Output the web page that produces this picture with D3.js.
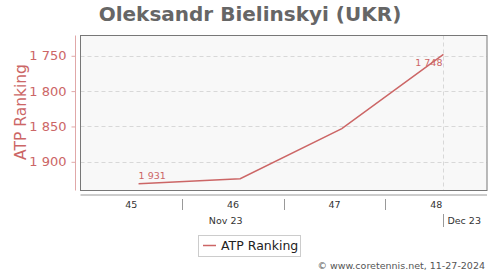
<!DOCTYPE html>
<html><head><meta charset="utf-8">
<script src="https://cdn.jsdelivr.net/npm/d3@7"></script>
<style>body{margin:0;background:#fff}svg{font-family:"DejaVu Sans",sans-serif}</style>
</head><body>
<script>
const dates = ["2023-11-10","2023-11-17","2023-11-24","2023-12-01"];
const rankings = [1931, 1924, 1853, 1748];
const yTicks = [1750, 1800, 1850, 1900];
const weekLabels = ["45","46","47","48"];
const weekStarts = ["2023-11-06","2023-11-13","2023-11-20","2023-11-27"];
const monthLabels = [{label:"Nov 23", start:"2023-11-01", end:"2023-12-01"},{label:"Dec 23", start:"2023-12-01", end:"2024-01-01"}];
const seriesName = "ATP Ranking";
const title = "Oleksandr Bielinskyi (UKR)";
const credit = "© www.coretennis.net, 11-27-2024";

const W=500,H=270;
const red="#cc6666";
const parse=d3.utcParse("%Y-%m-%d");
const svg=d3.select("body").append("svg").attr("width",W).attr("height",H);
const L=80.5,R=487,T=35.5,B=190.5;
const x=d3.scaleUtc().domain([parse("2023-11-06"),parse("2023-12-04")]).range([L,R]);
const y=d3.scaleLinear().domain([1721.3,1940.6]).range([T,B]);

svg.append("rect").attr("x",L).attr("y",T).attr("width",R-L).attr("height",B-T).attr("fill","#f8f8f8");
// grid
svg.append("g").selectAll("line").data(yTicks).join("line")
 .attr("x1",L).attr("x2",R).attr("y1",d=>Math.round(y(d))+0.5).attr("y2",d=>Math.round(y(d))+0.5)
 .attr("stroke","#d8d8d8").attr("stroke-dasharray","4,3");
svg.append("line").attr("x1",Math.round(x(parse("2023-12-01")))+0.5).attr("x2",Math.round(x(parse("2023-12-01")))+0.5)
 .attr("y1",T).attr("y2",B).attr("stroke","#d8d8d8").attr("stroke-dasharray","4,3");
svg.append("rect").attr("x",L).attr("y",T).attr("width",R-L).attr("height",B-T).attr("fill","none").attr("stroke","#777");

// y axis
const ya=svg.append("g").attr("transform",`translate(${75.5},0)`)
 .call(d3.axisLeft(y).tickValues(yTicks).tickSize(4).tickFormat(d=>d3.format(",")(d).replace(",", " ")));
ya.select(".domain").attr("stroke","#e0a8a8").attr("d",`M0,${T}V${B}`);
ya.selectAll(".tick line").attr("stroke","#e0a8a8");
ya.selectAll(".tick text").attr("fill",red).attr("font-size",13).attr("font-family","DejaVu Sans").attr("dx",-2);
svg.append("text").attr("transform",`translate(26,112) rotate(-90)`).attr("text-anchor","middle")
 .attr("fill",red).attr("font-size",15.5).text(seriesName);

// x axis
const xa=svg.append("g");
xa.append("line").attr("x1",L).attr("x2",R).attr("y1",195).attr("y2",195).attr("stroke","#999");
xa.selectAll(".sep").data(weekStarts.slice(1)).join("line")
 .attr("x1",d=>Math.round(x(parse(d)))+0.5).attr("x2",d=>Math.round(x(parse(d)))+0.5).attr("y1",199).attr("y2",210).attr("stroke","#999");
xa.selectAll(".wl").data(weekLabels).join("text")
 .attr("x",(d,i)=>x(new Date((+parse(weekStarts[i])+ +d3.utcDay.offset(parse(weekStarts[i]),7))/2)))
 .attr("y",208).attr("text-anchor","middle").attr("font-size",9.5).attr("fill","#333").text(d=>d);
xa.selectAll(".ml").data(monthLabels).join("text")
 .attr("x",(d,i)=> i===0 ? (x(parse(d.start))+x(parse(d.end)))/2 : x(parse(d.start))+4)
 .attr("text-anchor",(d,i)=>i===0?"middle":"start")
 .attr("y",224).attr("font-size",9.5).attr("fill","#333").text(d=>d.label);
xa.append("line").attr("x1",Math.round(x(parse("2023-12-01")))+0.5).attr("x2",Math.round(x(parse("2023-12-01")))+0.5)
 .attr("y1",214).attr("y2",227).attr("stroke","#999");

// line
const data=dates.map((d,i)=>({date:parse(d),v:rankings[i]}));
svg.append("path").datum(data).attr("fill","none").attr("stroke",red).attr("stroke-width",1.5)
 .attr("d",d3.line().x(d=>x(d.date)).y(d=>y(d.v)));
// labels
const fmt=d=>d3.format(",")(d).replace(",", " ");
svg.append("text").attr("x",x(data[0].date)).attr("y",y(data[0].v)-5).attr("font-size",9.5).attr("fill",red).text(fmt(data[0].v));
const last=data[data.length-1];
svg.append("text").attr("x",x(last.date)-1).attr("y",y(last.v)+12).attr("text-anchor","end").attr("font-size",9.5).attr("fill",red).text(fmt(last.v));

// title
svg.append("text").attr("x",250).attr("y",21).attr("text-anchor","middle").attr("font-size",20).attr("font-weight","bold").attr("fill","#666").text(title);

// legend
svg.append("rect").attr("x",198.5).attr("y",235.5).attr("width",102).attr("height",21).attr("fill","#fff").attr("stroke","#ccc");
svg.append("line").attr("x1",203).attr("x2",216).attr("y1",245.5).attr("y2",245.5).attr("stroke",red).attr("stroke-width",1.5);
svg.append("text").attr("x",221).attr("y",250).attr("font-size",12.5).attr("fill","#222").text(seriesName);
// credit
svg.append("text").attr("x",485).attr("y",269).attr("text-anchor","end").attr("font-size",9.5).attr("fill","#555").text(credit);
</script>
</body></html>
